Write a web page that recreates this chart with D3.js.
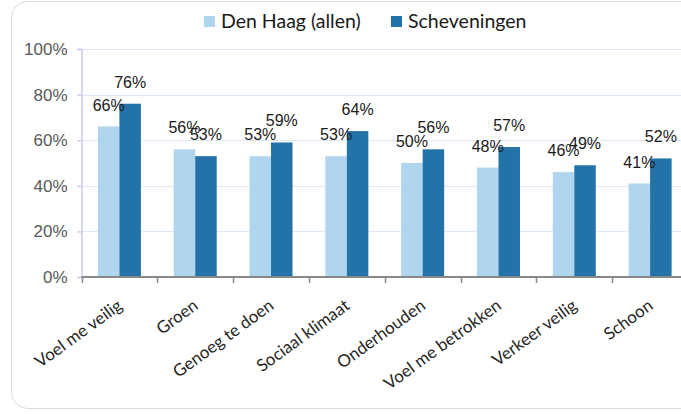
<!DOCTYPE html>
<html>
<head>
<meta charset="utf-8">
<script src="https://cdn.jsdelivr.net/npm/d3@7"></script>
<style>
  body { margin: 0; background: #fff; }
  svg { display: block; }
</style>
</head>
<body>
<div id="chart"></div>
<script>
// data
var categories = ["Voel me veilig", "Groen", "Genoeg te doen", "Sociaal klimaat",
                  "Onderhouden", "Voel me betrokken", "Verkeer veilig", "Schoon"];
var seriesNames = ["Den Haag (allen)", "Scheveningen"];
var denHaag = [66, 56, 53, 53, 50, 48, 46, 41];
var scheveningen = [76, 53, 59, 64, 56, 57, 49, 52];
var yTicks = [0, 20, 40, 60, 80, 100];

var colors = ["#b0d5ee", "#2372a8"];
var width = 681, height = 415;

var svg = d3.select("#chart").append("svg")
    .attr("width", width)
    .attr("height", height);

// rounded frame
svg.append("rect")
    .attr("x", 11.5).attr("y", 1.5)
    .attr("width", 700).attr("height", 407)
    .attr("rx", 16)
    .attr("fill", "#fff")
    .attr("stroke", "#d9d9d9");

var x0 = d3.scaleBand().domain(categories).range([81.5, 688]).paddingInner(0).paddingOuter(0);
var x1 = d3.scaleBand().domain([0, 1]).range([x0.bandwidth()/2 - 21.5, x0.bandwidth()/2 + 21.5]);
var y = d3.scaleLinear().domain([0, 100]).range([277, 49]);

// gridlines
svg.append("g")
    .selectAll("line")
    .data(yTicks.slice(1))
    .enter().append("line")
    .attr("x1", 81.5).attr("x2", 688)
    .attr("y1", d => Math.round(y(d)) + 0.5)
    .attr("y2", d => Math.round(y(d)) + 0.5)
    .attr("stroke", "#dde9f6")
    .attr("stroke-width", 1.2);

// y axis
var yAxis = d3.axisLeft(y).tickValues(yTicks).tickFormat(d => d + "%").tickSize(4).tickPadding(10);
var gy = svg.append("g")
    .attr("transform", "translate(81.5,0)")
    .call(yAxis);
gy.select(".domain").attr("stroke", "#c6cbef").attr("stroke-width", 1.5);
gy.selectAll(".tick line").attr("stroke", "#c6cbef").attr("stroke-width", 1.5);
gy.selectAll(".tick text")
    .attr("fill", "#595959")
    .style("font-family", "'Liberation Sans', Arial, sans-serif")
    .style("font-size", "17px");

// bars
var rows = categories.map((c, i) => ({cat: c, vals: [denHaag[i], scheveningen[i]]}));

var groups = svg.append("g")
    .selectAll("g")
    .data(rows)
    .enter().append("g")
    .attr("transform", d => "translate(" + x0(d.cat) + ",0)");

groups.selectAll("rect")
    .data(d => d.vals.map((v, k) => ({k: k, v: v})))
    .enter().append("rect")
    .attr("x", d => x1(d.k))
    .attr("y", d => y(d.v))
    .attr("width", x1.bandwidth())
    .attr("height", d => y(0) - y(d.v))
    .attr("fill", d => colors[d.k]);

// value labels
groups.selectAll("text")
    .data(d => d.vals.map((v, k) => ({k: k, v: v})))
    .enter().append("text")
    .attr("x", d => x1(d.k) + x1.bandwidth()/2)
    .attr("y", d => y(d.v) - 16)
    .attr("text-anchor", "middle")
    .style("font-family", "'Liberation Sans', Arial, sans-serif")
    .style("font-size", "16px")
    .attr("fill", "#1a1a1a")
    .text(d => d.v + "%");

// x axis
var gx = svg.append("g")
    .attr("transform", "translate(0,277)");
gx.append("line")
    .attr("x1", 81.5).attr("x2", 688)
    .attr("stroke", "#898989").attr("stroke-width", 2);
gx.selectAll(".tk")
    .data(categories)
    .enter().append("line")
    .attr("x1", d => Math.round(x0(d)) + 0.5)
    .attr("x2", d => Math.round(x0(d)) + 0.5)
    .attr("y1", 0).attr("y2", 6)
    .attr("stroke", "#898989").attr("stroke-width", 1.5);

gx.selectAll(".lbl")
    .data(categories)
    .enter().append("text")
    .attr("transform", d => "translate(" + (x0(d) + x0.bandwidth()/2 + 4) + ",31) rotate(-36)")
    .attr("text-anchor", "end")
    .style("font-family", "Lato, 'Open Sans', sans-serif")
    .style("font-size", "17px")
    .attr("fill", "#262626")
    .text(d => d);

// legend
var legend = svg.append("g");
var legendX = [204, 391];
seriesNames.forEach(function(name, i) {
    legend.append("rect")
        .attr("x", legendX[i]).attr("y", 16)
        .attr("width", 11).attr("height", 11)
        .attr("fill", colors[i]);
    legend.append("text")
        .attr("x", legendX[i] + 17).attr("y", 28)
        .style("font-family", "Lato, 'Open Sans', sans-serif")
        .style("font-size", "19.5px")
        .attr("fill", "#1a1a1a")
        .text(name);
});
</script>
</body>
</html>
